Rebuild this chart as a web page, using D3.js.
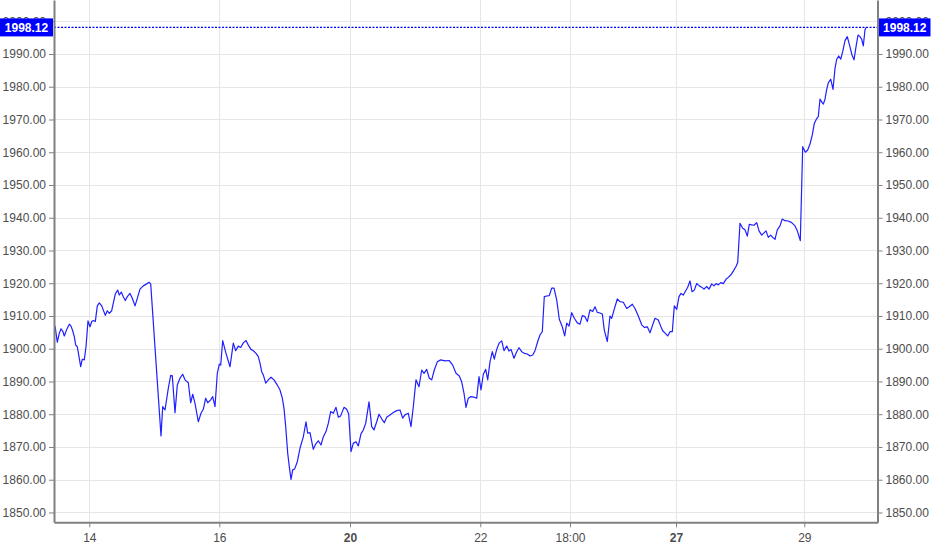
<!DOCTYPE html>
<html>
<head>
<meta charset="utf-8">
<script src="https://cdn.jsdelivr.net/npm/d3@7"></script>
<style>
  html, body { margin: 0; padding: 0; background: #fff; }
  svg { display: block; font-family: "Liberation Sans", Arial, Helvetica, sans-serif; }
</style>
</head>
<body>
<svg id="chart" width="932" height="550"></svg>
<script>
// ---- data ----
// trading hours since the open of the 14th, price
const priceSeries = [
  [-3.43,1907.0],[-3.20,1902.0],[-3.00,1904.7],[-2.83,1906.1],[-2.66,1905.4],[-2.50,1903.9],[-2.26,1905.9],[-2.00,1907.5],
  [-1.83,1906.9],[-1.66,1905.5],[-1.50,1903.7],[-1.36,1901.1],[-1.20,1900.6],[-1.03,1897.6],[-0.86,1894.5],[-0.70,1896.8],
  [-0.50,1896.6],[-0.33,1900.6],[-0.13,1908.5],[0.07,1906.7],[0.24,1908.3],[0.40,1908.6],[0.60,1908.3],[0.80,1913.1],
  [1.00,1914.0],[1.24,1913.1],[1.40,1911.8],[1.60,1910.2],[1.80,1911.6],[2.00,1910.8],[2.24,1911.6],[2.40,1913.9],
  [2.60,1916.7],[2.84,1917.9],[3.00,1916.4],[3.20,1917.3],[3.40,1915.9],[3.60,1914.7],[3.80,1915.9],[4.07,1916.9],
  [4.30,1915.4],[4.57,1913.1],[4.80,1915.4],[5.07,1918.2],[5.40,1919.2],[5.74,1919.8],[5.97,1920.3],[6.14,1919.8],
  [7.17,1873.4],[7.34,1882.3],[7.57,1881.3],[7.90,1887.9],[8.14,1891.9],[8.30,1891.7],[8.57,1880.5],[8.80,1888.9],
  [9.07,1891.0],[9.34,1892.2],[9.57,1890.5],[9.90,1889.6],[10.14,1883.5],[10.34,1886.1],[10.57,1883.3],[10.90,1877.7],
  [11.17,1880.3],[11.40,1881.5],[11.64,1884.9],[11.84,1883.5],[12.14,1884.4],[12.34,1885.4],[12.57,1882.3],[12.80,1892.5],
  [13.00,1895.3],[13.14,1895.0],[13.34,1902.5],[13.67,1898.6],[14.07,1894.5],[14.40,1901.7],[14.64,1899.4],[14.90,1900.8],
  [15.14,1900.4],[15.40,1901.8],[15.67,1902.5],[15.90,1901.1],[16.17,1899.8],[16.40,1899.4],[16.67,1898.6],[16.90,1897.6],
  [17.07,1895.6],[17.24,1893.0],[17.40,1892.0],[17.64,1889.5],[17.90,1890.5],[18.17,1891.3],[18.47,1890.5],[18.80,1888.9],
  [19.07,1887.4],[19.30,1884.9],[19.47,1881.8],[19.64,1876.2],[19.84,1868.1],[20.00,1864.0],[20.17,1860.1],[20.34,1863.0],
  [20.54,1863.3],[20.80,1865.5],[21.07,1869.6],[21.40,1873.1],[21.67,1877.7],[21.84,1874.2],[22.07,1874.4],[22.40,1869.3],
  [22.64,1870.9],[22.90,1871.9],[23.17,1870.6],[23.40,1873.1],[23.67,1874.7],[23.90,1877.2],[24.14,1880.8],[24.40,1880.3],
  [24.67,1882.1],[24.90,1879.1],[25.14,1879.5],[25.47,1882.1],[25.74,1881.5],[25.94,1880.1],[26.17,1868.6],[26.40,1871.1],
  [26.67,1871.6],[26.90,1870.3],[27.17,1874.0],[27.40,1875.2],[27.64,1877.2],[27.97,1883.8],[28.24,1876.2],[28.47,1875.2],
  [28.74,1877.7],[28.97,1880.0],[29.24,1878.6],[29.50,1877.4],[29.74,1879.1],[30.07,1879.8],[30.40,1880.5],[30.74,1881.1],
  [31.07,1881.3],[31.34,1878.8],[31.57,1879.8],[31.90,1880.3],[32.17,1876.2],[32.40,1882.3],[32.67,1890.5],[32.97,1888.4],
  [33.24,1893.5],[33.47,1892.5],[33.74,1893.7],[34.00,1891.0],[34.24,1890.5],[34.50,1893.5],[34.80,1896.0],[35.14,1896.6],
  [35.57,1896.3],[36.00,1896.4],[36.34,1895.0],[36.67,1892.5],[37.00,1891.7],[37.24,1889.9],[37.47,1886.4],[37.67,1882.1],
  [37.90,1884.9],[38.17,1885.4],[38.47,1885.2],[38.74,1884.9],[38.97,1891.5],[39.17,1887.4],[39.40,1892.2],[39.64,1893.7],
  [39.84,1890.5],[40.07,1896.0],[40.30,1899.1],[40.50,1896.8],[40.74,1899.8],[41.00,1901.8],[41.24,1902.4],[41.47,1899.4],
  [41.74,1900.8],[41.97,1899.3],[42.17,1899.8],[42.47,1897.1],[42.74,1899.1],[42.97,1900.3],[43.24,1899.1],[43.50,1898.6],
  [43.80,1898.4],[44.07,1897.8],[44.34,1898.1],[44.57,1899.4],[44.84,1902.2],[45.07,1904.2],[45.30,1905.2],[45.50,1915.9],
  [45.74,1916.1],[46.00,1916.2],[46.24,1918.5],[46.47,1918.5],[46.74,1914.9],[47.00,1909.0],[47.30,1906.7],[47.54,1903.9],
  [47.74,1907.8],[47.97,1906.9],[48.24,1911.0],[48.50,1909.3],[48.80,1907.9],[49.07,1907.5],[49.30,1910.1],[49.57,1909.8],
  [49.80,1908.3],[50.07,1911.9],[50.34,1911.4],[50.57,1912.8],[50.80,1911.1],[51.07,1910.9],[51.30,1910.6],[51.50,1905.7],
  [51.80,1902.2],[52.07,1910.0],[52.24,1909.3],[52.47,1911.8],[52.80,1915.2],[53.07,1914.4],[53.40,1914.2],[53.74,1912.3],
  [54.00,1912.8],[54.30,1913.6],[54.57,1912.3],[54.90,1910.0],[55.24,1907.3],[55.50,1906.5],[55.80,1906.7],[56.07,1904.9],
  [56.34,1907.3],[56.57,1909.3],[56.90,1908.8],[57.14,1906.9],[57.34,1905.5],[57.60,1904.7],[57.84,1903.9],[58.07,1905.2],
  [58.30,1905.2],[58.50,1913.1],[58.74,1912.0],[58.97,1915.9],[59.17,1916.9],[59.40,1916.4],[59.64,1917.7],[59.84,1918.8],
  [60.07,1920.7],[60.27,1917.4],[60.50,1917.9],[60.74,1919.9],[61.00,1919.2],[61.24,1918.8],[61.47,1918.2],[61.74,1919.0],
  [61.97,1918.2],[62.24,1919.8],[62.47,1919.2],[62.67,1919.9],[62.90,1919.5],[63.14,1920.2],[63.40,1919.9],[63.67,1921.2],
  [63.90,1921.8],[64.14,1922.5],[64.40,1923.7],[64.67,1925.1],[64.84,1926.3],[65.07,1938.3],[65.34,1936.8],[65.57,1936.3],
  [65.80,1934.4],[66.00,1938.0],[66.24,1937.8],[66.47,1937.7],[66.74,1938.5],[66.97,1936.0],[67.24,1934.7],[67.47,1935.4],
  [67.67,1936.0],[67.90,1934.0],[68.14,1934.7],[68.34,1934.0],[68.57,1933.4],[68.80,1936.3],[69.07,1937.5],[69.30,1939.6],
  [69.57,1939.1],[69.90,1939.0],[70.24,1938.5],[70.57,1937.5],[70.80,1936.0],[71.00,1934.0],[71.10,1933.0],[71.34,1961.7],
  [71.60,1960.0],[71.84,1960.7],[72.07,1962.5],[72.30,1965.3],[72.50,1968.8],[72.74,1970.3],[72.90,1970.9],[73.07,1976.2],
  [73.24,1975.4],[73.40,1974.7],[73.57,1976.2],[73.74,1979.2],[73.90,1981.2],[74.14,1982.3],[74.37,1979.2],[74.57,1985.6],
  [74.74,1988.4],[74.94,1989.4],[75.14,1988.4],[75.34,1990.7],[75.57,1994.1],[75.80,1995.3],[76.07,1992.2],[76.27,1989.7],
  [76.47,1988.2],[76.67,1992.2],[76.87,1995.8],[77.07,1995.3],[77.24,1994.5],[77.40,1992.5],[77.57,1997.4],[77.67,1998.12]
];
const lastPrice = 1998.12;
const yTickValues = [1850,1860,1870,1880,1890,1900,1910,1920,1930,1940,1950,1960,1970,1980,1990,2000];
const xTickValues = [0, 13, 26.07, 39.1, 48.07, 58.67, 71.5];
const xTickLabels = ["14", "16", "20", "22", "18:00", "27", "29"];
const boldLabels = ["20", "27"];
const xDomain = [-3.53, 78.82];
const yDomain = [1847.0, 2006.49];

// ---- layout ----
const W = 932, H = 550;
const plot = { left: 54, right: 877.5, top: 0, bottom: 522.3 };
const svg = d3.select("#chart");

const x = d3.scaleLinear().domain(xDomain).range([plot.left, plot.right]);
const y = d3.scaleLinear().domain(yDomain).range([plot.bottom, plot.top]);

const axisColor = "#808080";
const textColor = "#4d4d4d";

// grid
const grid = svg.append("g");
grid.selectAll("line.h").data(yTickValues).join("line")
  .attr("x1", plot.left).attr("x2", plot.right)
  .attr("y1", d => Math.round(y(d)) + 0.5).attr("y2", d => Math.round(y(d)) + 0.5)
  .attr("stroke", "#e6e6e6").attr("stroke-width", 1);
grid.selectAll("line.v").data(xTickValues).join("line")
  .attr("y1", plot.top).attr("y2", plot.bottom)
  .attr("x1", d => Math.round(x(d)) + 0.5).attr("x2", d => Math.round(x(d)) + 0.5)
  .attr("stroke", "#e6e6e6").attr("stroke-width", 1);

// price line
const line = d3.line().x(d => x(d[0])).y(d => y(d[1]));
svg.append("path").datum(priceSeries)
  .attr("d", line).attr("fill", "none")
  .attr("stroke", "#1f1fff").attr("stroke-width", 1.2)
  .attr("stroke-linejoin", "round");

// last price dotted line
const ly = y(lastPrice);
svg.append("line")
  .attr("x1", plot.left).attr("x2", plot.right)
  .attr("y1", ly).attr("y2", ly)
  .attr("stroke", "#0000ff").attr("stroke-width", 1.4)
  .attr("stroke-dasharray", "2,1.5");

// axes
const fmt = d3.format(".2f");
function styleAxis(g) {
  g.select(".domain").attr("stroke", axisColor).attr("stroke-width", 2);
  g.selectAll(".tick line").attr("stroke", axisColor);
  g.selectAll(".tick text").attr("fill", textColor).style("font-size", "12px")
    .style("font-family", "'Liberation Sans', Arial, sans-serif");
}
const leftAxis = svg.append("g").attr("transform", `translate(${plot.left},0)`)
  .call(d3.axisLeft(y).tickValues(yTickValues).tickFormat(fmt).tickSize(5).tickSizeOuter(0).tickPadding(3));
styleAxis(leftAxis);
const rightAxis = svg.append("g").attr("transform", `translate(${plot.right},0)`)
  .call(d3.axisRight(y).tickValues(yTickValues).tickFormat(fmt).tickSize(5).tickSizeOuter(0).tickPadding(3));
styleAxis(rightAxis);
const bottomAxis = svg.append("g").attr("transform", `translate(0,${plot.bottom})`)
  .call(d3.axisBottom(x).tickValues(xTickValues).tickFormat((d, i) => xTickLabels[i]).tickSize(5).tickSizeOuter(0).tickPadding(6));
styleAxis(bottomAxis);
bottomAxis.selectAll(".tick text")
  .style("font-weight", (d, i) => boldLabels.includes(xTickLabels[i]) ? "bold" : "normal");

// last price labels
const boxH = 18;
const leftBox = svg.append("g");
leftBox.append("rect").attr("x", 0).attr("y", ly - boxH / 2).attr("width", plot.left - 1).attr("height", boxH).attr("fill", "#0000ff");
leftBox.append("text").attr("x", 26.5).attr("y", ly).attr("dy", "0.35em").attr("text-anchor", "middle")
  .attr("fill", "#fff").style("font-weight", "bold").style("font-size", "12px").text(fmt(lastPrice));
const rightBox = svg.append("g");
rightBox.append("rect").attr("x", plot.right + 1.5).attr("y", ly - boxH / 2).attr("width", W - plot.right - 3).attr("height", boxH).attr("fill", "#0000ff");
rightBox.append("text").attr("x", plot.right + 1.5 + (W - plot.right - 3) / 2).attr("y", ly).attr("dy", "0.35em").attr("text-anchor", "middle")
  .attr("fill", "#fff").style("font-weight", "bold").style("font-size", "12px").text(fmt(lastPrice));
</script>
</body>
</html>
